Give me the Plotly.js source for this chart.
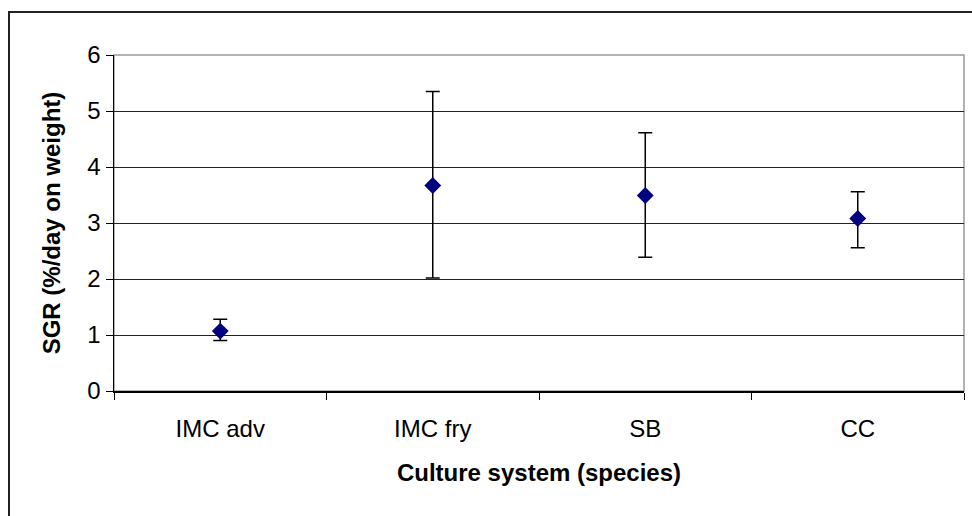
<!DOCTYPE html>
<html>
<head>
<meta charset="utf-8">
<script src="https://cdn.plot.ly/plotly-3.0.1.min.js"></script>
<style>
  html, body { margin: 0; padding: 0; background: #fff; }
  #chart { width: 972px; height: 516px; }
</style>
</head>
<body>
<div id="chart"></div>
<script>
const categories = ["IMC adv", "IMC fry", "SB", "CC"];
const sgrMean = [1.07, 3.67, 3.49, 3.08];
const errPlus = [0.21, 1.68, 1.12, 0.48];
const errMinus = [0.17, 1.65, 1.10, 0.52];
const yTicks = [0, 1, 2, 3, 4, 5, 6];

const trace = {
  type: "scatter",
  mode: "markers",
  x: categories,
  y: sgrMean,
  marker: { symbol: "diamond", size: 13, color: "#000080" },
  error_y: {
    type: "data",
    symmetric: false,
    array: errPlus,
    arrayminus: errMinus,
    color: "#000000",
    thickness: 1.5,
    width: 7
  },
  hoverinfo: "x+y"
};

const font = { family: "Liberation Sans, Arial, sans-serif", size: 24, color: "#000" };

const layout = {
  width: 972,
  height: 516,
  margin: { l: 114, r: 8, t: 55, b: 125, pad: 0 },
  paper_bgcolor: "#ffffff",
  plot_bgcolor: "#ffffff",
  showlegend: false,
  font: font,
  xaxis: {
    type: "category",
    range: [-0.5, 3.5],
    tickson: "boundaries",
    ticks: "outside",
    ticklen: 7,
    tickwidth: 1,
    tickcolor: "#000",
    ticklabelstandoff: 16,
    showline: true,
    linecolor: "#000",
    linewidth: 1.5,
    showgrid: false,
    zeroline: false,
    tickfont: { family: font.family, size: 24, color: "#000" },
    title: {
      text: "<b>Culture system (species)</b>",
      font: { family: font.family, size: 24, color: "#000" },
      standoff: 23
    },
    automargin: false,
    fixedrange: true
  },
  yaxis: {
    range: [0, 6],
    tickmode: "array",
    tickvals: yTicks,
    ticksuffix: "\u2005",
    ticks: "outside",
    ticklen: 7,
    tickwidth: 1,
    tickcolor: "#000",
    showline: true,
    linecolor: "#000",
    linewidth: 1.5,
    showgrid: true,
    gridcolor: "#222",
    gridwidth: 1,
    zeroline: false,
    tickfont: { family: font.family, size: 24, color: "#000" },
    title: {
      text: "<b>SGR (%/day on weight)</b>",
      font: { family: font.family, size: 24, color: "#000" },
      standoff: 20
    },
    automargin: false,
    fixedrange: true
  },
  shapes: [
    {
      type: "rect", xref: "paper", yref: "paper",
      x0: 0, x1: 1, y0: 0, y1: 1,
      line: { color: "#999", width: 1.5 },
      layer: "below"
    },
    {
      type: "rect", xref: "paper", yref: "paper",
      x0: (9 - 114) / 850, x1: (990 - 114) / 850,
      y0: (391 - 540) / 336, y1: (391 - 12) / 336,
      line: { color: "#222", width: 2 },
      fillcolor: "rgba(0,0,0,0)",
      layer: "above"
    }
  ]
};

Plotly.newPlot("chart", [trace], layout, { displayModeBar: false, staticPlot: true });
</script>
</body>
</html>
